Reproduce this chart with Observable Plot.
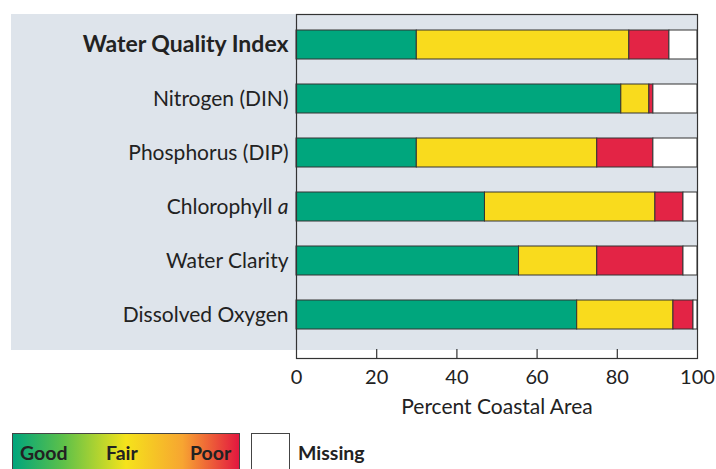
<!DOCTYPE html>
<html>
<head>
<meta charset="utf-8">
<script src="https://cdn.jsdelivr.net/npm/d3@7"></script>
<script src="https://cdn.jsdelivr.net/npm/@observablehq/plot@0.6"></script>
<style>
  body { margin: 0; background: white; font-family: Lato, "Open Sans", sans-serif; }
  #wrap { position: relative; width: 716px; }
  #bg { position: absolute; left: 11px; top: 14px; width: 686px; height: 336px; background: #dee4eb; }
  #chart { position: relative; }
  #legend { position: relative; height: 49px; }
  .grad { position: absolute; left: 12px; top: 13px; width: 226px; height: 40px; border: 1px solid #444;
          background: linear-gradient(to right, #00a57c 0%, #5cc04a 22%, #f5e31b 50%, #f7a531 75%, #e3173f 100%); }
  .lab { position: absolute; top: 21px; font-weight: bold; font-size: 19.5px; color: #222; }
  .miss { position: absolute; left: 251px; top: 13px; width: 37px; height: 40px; border: 1px solid #444; background: white; }
</style>
</head>
<body>
<div id="wrap">
  <div id="bg"></div>
  <div id="chart"></div>
  <div id="legend">
    <div class="grad"></div>
    <div class="lab" style="left:20px">Good</div>
    <div class="lab" style="left:106px">Fair</div>
    <div class="lab" style="left:190px">Poor</div>
    <div class="miss"></div>
    <div class="lab" style="left:298px">Missing</div>
  </div>
</div>
<script>
const categories = ["Water Quality Index", "Nitrogen (DIN)", "Phosphorus (DIP)", "Chlorophyll a", "Water Clarity", "Dissolved Oxygen"];
const statuses = ["Good", "Fair", "Poor", "Missing"];
const colors = ["#00a67d", "#f9db1d", "#e32445", "#ffffff"];
const good    = [30, 81, 30, 47, 55.5, 70];
const fair    = [53, 7, 45, 42.5, 19.5, 24];
const poor    = [10, 1, 14, 7, 21.5, 5];
const missing = [7, 11, 11, 3.5, 3.5, 1];
const xTicks = [0, 20, 40, 60, 80, 100];
const xLabel = "Percent Coastal Area";

const series = [good, fair, poor, missing];
const data = [];
categories.forEach((c, i) => {
  statuses.forEach((s, j) => data.push({category: c, status: s, value: series[j][i]}));
});

const chart = Plot.plot({
  width: 716,
  height: 420,
  marginTop: 14,
  marginBottom: 62,
  marginLeft: 296,
  marginRight: 19,
  style: {background: "transparent", fontFamily: "Lato, 'Open Sans', sans-serif", color: "#222"},
  x: {domain: [0, 100], label: null},
  y: {domain: categories, paddingInner: 0.455, paddingOuter: 0.355, align: 0.36, label: null},
  color: {domain: statuses, range: colors},
  marks: [
    Plot.barX(data, Plot.stackX({x: "value", y: "category", fill: "status", stroke: "#333", strokeWidth: 1})),
    Plot.ruleX(xTicks.slice(1, -1), {stroke: "#333", strokeWidth: 1.2, insetTop: 335}),
    Plot.frame({stroke: "#333", strokeWidth: 1.2}),
    Plot.axisX({ticks: xTicks, tickSize: 0, tickPadding: 11, fontSize: 20, label: null}),
    Plot.text([xLabel], {frameAnchor: "bottom", dy: 55, fontSize: 21, fill: "#222"}),
    Plot.axisY(categories.slice(1), {tickSize: 0, tickPadding: 8, fontSize: 21, label: null}),
    Plot.axisY(categories.slice(0, 1), {tickSize: 0, tickPadding: 8, fontSize: 23, fontWeight: "bold", label: null})
  ]
});
document.getElementById("chart").appendChild(chart);

// italic "a" in Chlorophyll a
chart.querySelectorAll("text").forEach(t => {
  if (t.textContent === "Chlorophyll a") {
    t.textContent = "Chlorophyll ";
    const ts = document.createElementNS("http://www.w3.org/2000/svg", "tspan");
    ts.setAttribute("font-style", "italic");
    ts.textContent = "a";
    t.appendChild(ts);
  }
});
</script>
</body>
</html>
